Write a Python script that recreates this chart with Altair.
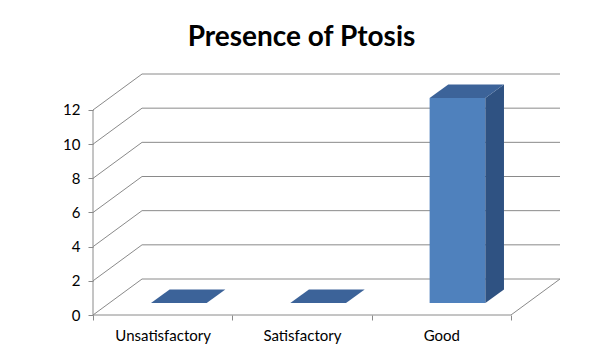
import json
import altair as alt
import pandas as pd

# ---- data ----
categories = ["Unsatisfactory", "Satisfactory", "Good"]
values = [0, 0, 12]
y_ticks = [0, 2, 4, 6, 8, 10, 12]
title_text = "Presence of Ptosis"

# ---- 3D projection style constants (data units) ----
DEPTH_X = 0.352      # horizontal depth of the floor, in category units
DEPTH_Y = 2.107      # vertical depth of the floor, in value units
BAR_HALF = 0.2       # half bar width, in category units
F0, F1 = 0.33, 0.71  # bar front / back depth fractions

n = len(categories)
y_max = max(y_ticks)
x_top = n + DEPTH_X
y_top = y_max + DEPTH_Y

GRID = "#8a8a8a"
FRONT = "#4F81BD"
TOP = "#3C6399"
SIDE = "#2F5282"

# walls, floor and axis lines
rows = []
for v in y_ticks:
    rows.append(dict(x0=0, y0=v, x1=DEPTH_X, y1=v + DEPTH_Y))                 # left wall
    rows.append(dict(x0=DEPTH_X, y0=v + DEPTH_Y, x1=n + DEPTH_X, y1=v + DEPTH_Y))  # back wall
rows.append(dict(x0=n, y0=0, x1=n + DEPTH_X, y1=DEPTH_Y))                     # floor right edge
rows.append(dict(x0=0, y0=0, x1=0, y1=y_max))                                 # front y axis line
rows.append(dict(x0=0, y0=0, x1=n, y1=0))                                     # front x axis line
lines_df = pd.DataFrame(rows)

front_rows, side_rows, top_rows = [], [], []
for i, (c, v) in enumerate(zip(categories, values)):
    xl, xr = i + 0.5 - BAR_HALF, i + 0.5 + BAR_HALF
    front_rows.append(dict(cat=c, x=xl + F0 * DEPTH_X, x2=xr + F0 * DEPTH_X,
                           y=F0 * DEPTH_Y, y2=v + F0 * DEPTH_Y))
    for f in (F0, F1):
        side_rows.append(dict(cat=c, x=xr + f * DEPTH_X, ylo=f * DEPTH_Y, yhi=v + f * DEPTH_Y))
        top_rows.append(dict(cat=c, y=v + f * DEPTH_Y, xa=xl + f * DEPTH_X, xb=xr + f * DEPTH_X))
front_df = pd.DataFrame(front_rows)
side_df = pd.DataFrame(side_rows)
top_df = pd.DataFrame(top_rows)

label_expr = ("datum.value % 1 == 0 ? '' : " + json.dumps(categories) +
              "[floor(datum.value)]")

x_scale = alt.Scale(domain=[0, x_top], nice=False, zero=False)
y_scale = alt.Scale(domain=[0, y_top], nice=False, zero=False)

x_axis = alt.Axis(
    values=[k * 0.5 for k in range(2 * n + 1)],
    labelExpr=label_expr, title=None, domain=False, grid=False,
    tickColor=GRID, tickSize=5,
    tickOpacity={"condition": {"test": "datum.value % 1 != 0", "value": 0}, "value": 1},
    labelOverlap=False, labelFlush=False, labelBound=False, labelPadding=8,
    labelFont="Lato", labelFontSize=15, labelColor="#000000",
)
y_axis = alt.Axis(
    values=y_ticks, title=None, domain=False, grid=False,
    tickColor=GRID, tickSize=5, labelPadding=8,
    labelFont="Lato", labelFontSize=15, labelColor="#000000",
)

lines = alt.Chart(lines_df).mark_rule(color=GRID, strokeWidth=1).encode(
    x=alt.X("x0:Q", scale=x_scale, axis=x_axis),
    x2="x1:Q",
    y=alt.Y("y0:Q", scale=y_scale, axis=y_axis),
    y2="y1:Q",
)

front = alt.Chart(front_df).mark_rect(color=FRONT).encode(
    x="x:Q", x2="x2:Q", y="y:Q", y2="y2:Q"
)
side = alt.Chart(side_df).mark_area(color=SIDE, orient="vertical", interpolate="linear").encode(
    x="x:Q", y="ylo:Q", y2="yhi:Q", detail="cat:N"
)
top = alt.Chart(top_df).mark_area(color=TOP, orient="horizontal", interpolate="linear").encode(
    y="y:Q", x="xa:Q", x2="xb:Q", detail="cat:N"
)

chart = alt.layer(lines, front, side, top).properties(
    width=467, height=241,
    background="#ffffff",
    padding={"left": 85, "top": 66, "right": 32, "bottom": 37},
    autosize=alt.AutoSizeParams(type="none"),
    title=alt.TitleParams(
        title_text, font="Lato", fontSize=28, fontWeight="bold", color="#000000",
        anchor="middle", frame="group", dx=-25, offset=0, baseline="alphabetic",
    ),
).configure_view(strokeWidth=0, stroke="transparent")

chart.save("out.html", embed_options={"renderer": "svg", "actions": False})
